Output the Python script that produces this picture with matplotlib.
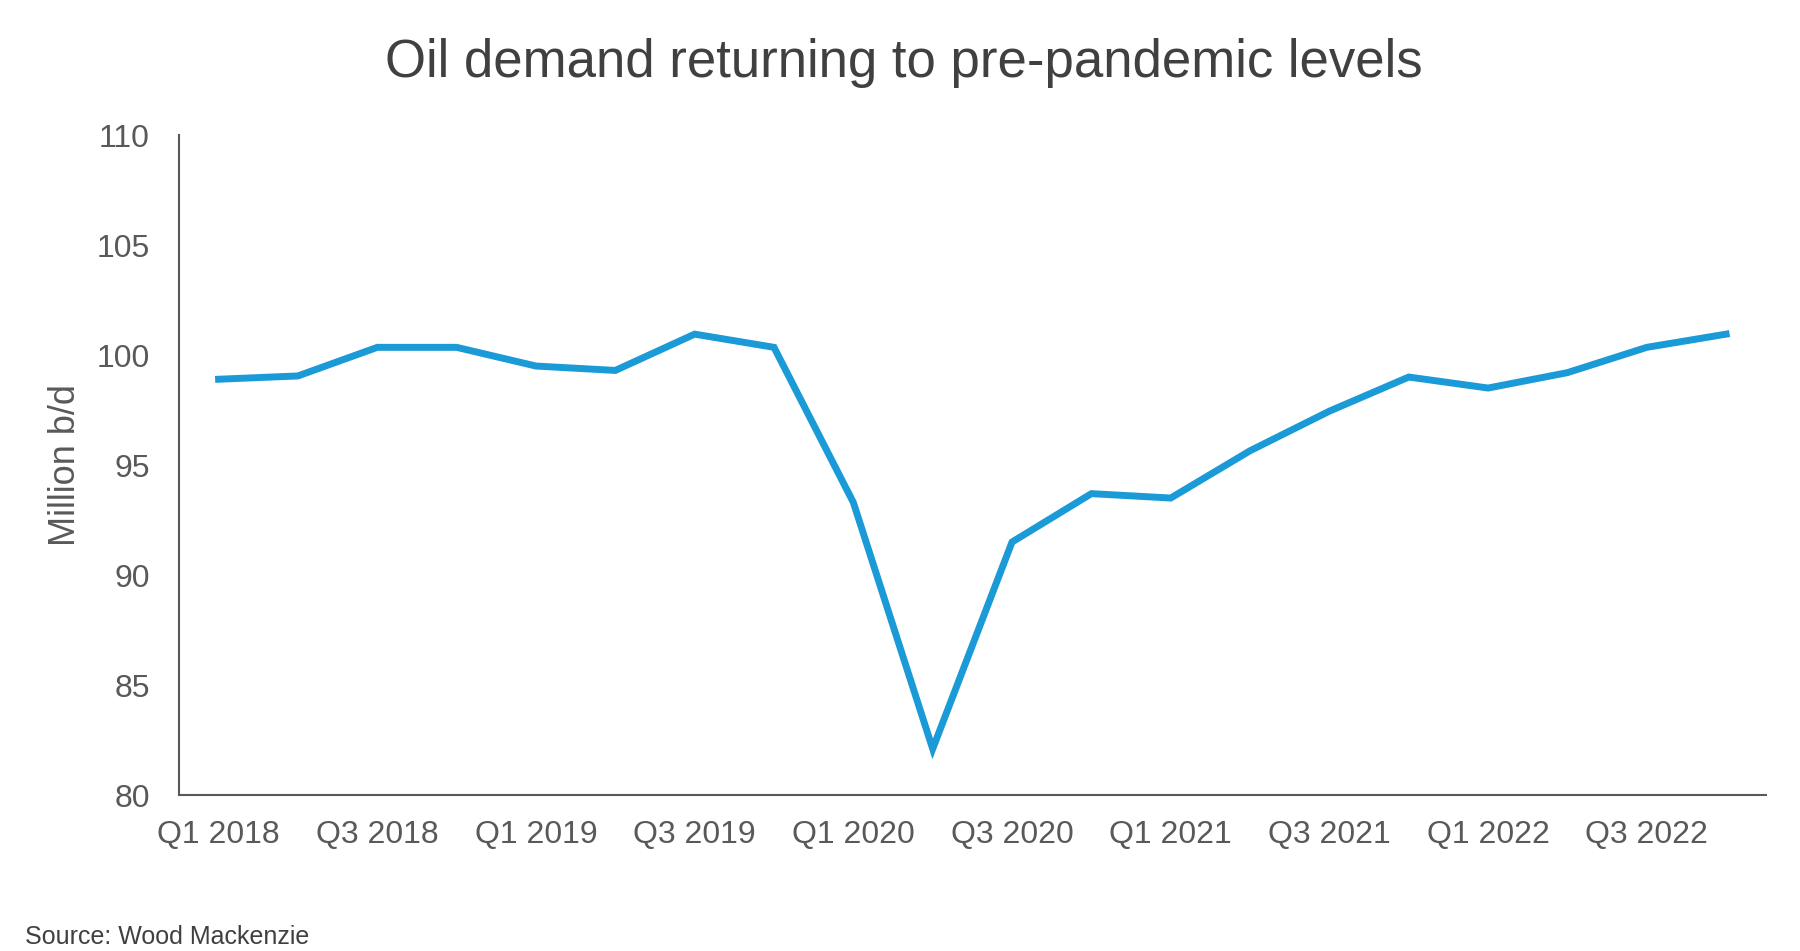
import matplotlib
matplotlib.use("Agg")
import matplotlib.pyplot as plt

quarters = ["Q1 2018", "Q2 2018", "Q3 2018", "Q4 2018",
            "Q1 2019", "Q2 2019", "Q3 2019", "Q4 2019",
            "Q1 2020", "Q2 2020", "Q3 2020", "Q4 2020",
            "Q1 2021", "Q2 2021", "Q3 2021", "Q4 2021",
            "Q1 2022", "Q2 2022", "Q3 2022", "Q4 2022"]
demand = [98.9, 99.05, 100.35, 100.35,
          99.5, 99.3, 100.95, 100.35,
          93.3, 82.1, 91.5, 93.7,
          93.5, 95.65, 97.45, 99.0,
          98.5, 99.2, 100.35, 100.95]
yticks = [80, 85, 90, 95, 100, 105, 110]

plt.rcParams['font.family'] = ['Liberation Sans', 'DejaVu Sans']

fig = plt.figure(figsize=(18, 9.51), dpi=100)
ax = fig.add_axes([0.0994, 0.164, 0.8816, 0.694])

x = list(range(len(quarters)))
ax.plot(x, demand, color='#1a9ad6', linewidth=5, solid_joinstyle='miter')

ax.set_xlim(-0.5, len(quarters) - 0.5)
ax.set_ylim(80, 110)
ax.set_yticks(yticks)
ax.set_yticklabels([str(v) for v in yticks])
ax.set_xticks(x[::2])
ax.set_xticklabels(quarters[::2])

for s in ['top', 'right']:
    ax.spines[s].set_visible(False)
for s in ['left', 'bottom']:
    ax.spines[s].set_color('#595959')
    ax.spines[s].set_linewidth(1.5)

ax.tick_params(axis='both', length=0, labelsize=23, labelcolor='#595959')
ax.tick_params(axis='y', pad=21)
ax.tick_params(axis='x', pad=18)

ax.set_ylabel('Million b/d', fontsize=26, color='#595959', labelpad=10)

fig.text(0.502, 0.934, 'Oil demand returning to pre-pandemic levels',
         ha='center', va='center', fontsize=38, color='#404040')
fig.text(0.014, 0.015, 'Source: Wood Mackenzie', ha='left', va='center',
         fontsize=18, color='#404040')

fig.savefig('out.png', dpi=100, facecolor='white')
